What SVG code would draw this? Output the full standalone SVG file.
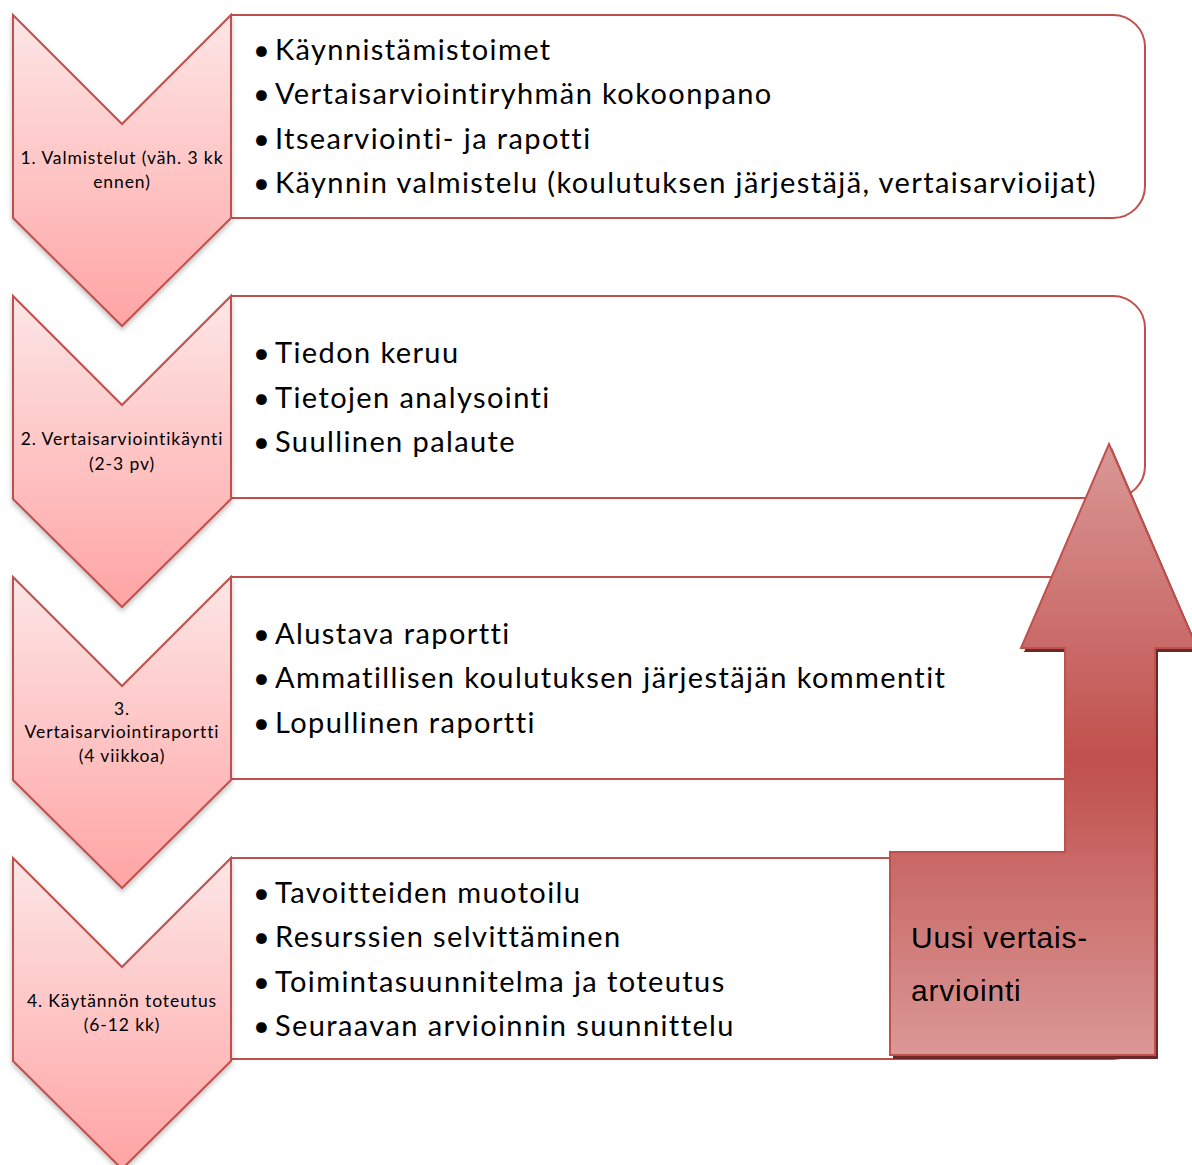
<svg xmlns="http://www.w3.org/2000/svg" width="1192" height="1165" viewBox="0 0 1192 1165">
<style>
.chev{fill:url(#chevGrad);stroke:#c0504d;stroke-width:2;filter:url(#sh)}
.box{fill:#ffffff;stroke:#c0504d;stroke-width:2}
.lbl{font-family:Lato,"Liberation Sans",sans-serif;font-size:17.5px;letter-spacing:0.9px;fill:#000;text-anchor:middle;font-variant-ligatures:none}
.bul{font-family:Lato,"Liberation Sans",sans-serif;font-size:29px;letter-spacing:1.4px;fill:#000;font-variant-ligatures:none}
.arw{font-family:"Liberation Sans",Arial,sans-serif;font-size:30px;letter-spacing:0.8px;fill:#000}
</style>
<defs>
<linearGradient id="chevGrad" x1="0" y1="0" x2="0" y2="1">
<stop offset="0" stop-color="#fde6e6"/>
<stop offset="1" stop-color="#ffa4a4"/>
</linearGradient>
<linearGradient id="arrGrad" gradientUnits="userSpaceOnUse" x1="0" y1="444" x2="0" y2="1055">
<stop offset="0" stop-color="#da9896"/>
<stop offset="0.52" stop-color="#c0504d"/>
<stop offset="1" stop-color="#da9896"/>
</linearGradient>
<filter id="sh" x="-10%" y="-10%" width="120%" height="125%">
<feDropShadow dx="0" dy="3" stdDeviation="2.5" flood-color="#000" flood-opacity="0.25"/>
</filter>
</defs>

<g id="step1">
<path class="box" d="M231,15 H1113 A32,32 0 0 1 1145,47 V186 A32,32 0 0 1 1113,218 H231 Z"/>
<path class="chev" d="M13,15 L122,124 L231,15 L231,218 L122,326 L13,218 Z"/>
<text class="lbl" x="122" y="164">1. Valmistelut (väh. 3 kk</text>
<text class="lbl" x="122" y="188">ennen)</text>
<text class="bul" x="253" y="60">•</text><text class="bul" x="275" y="60">Käynnistämistoimet</text>
<text class="bul" x="253" y="104">•</text><text class="bul" x="275" y="104">Vertaisarviointiryhmän kokoonpano</text>
<text class="bul" x="253" y="149">•</text><text class="bul" x="275" y="149">Itsearviointi- ja rapotti</text>
<text class="bul" x="253" y="193">•</text><text class="bul" x="275" y="193">Käynnin valmistelu (koulutuksen järjestäjä, vertaisarvioijat)</text>
</g>

<g id="step2">
<path class="box" d="M231,296 H1113 A32,32 0 0 1 1145,328 V466 A32,32 0 0 1 1113,498 H231 Z"/>
<path class="chev" d="M13,296 L122,405 L231,296 L231,499 L122,607 L13,499 Z"/>
<text class="lbl" x="122" y="445">2. Vertaisarviointikäynti</text>
<text class="lbl" x="122" y="470">(2-3 pv)</text>
<text class="bul" x="253" y="363">•</text><text class="bul" x="275" y="363">Tiedon keruu</text>
<text class="bul" x="253" y="408">•</text><text class="bul" x="275" y="408">Tietojen analysointi</text>
<text class="bul" x="253" y="452">•</text><text class="bul" x="275" y="452">Suullinen palaute</text>
</g>

<g id="step3">
<path class="box" d="M231,577 H1113 A32,32 0 0 1 1145,609 V747 A32,32 0 0 1 1113,779 H231 Z"/>
<path class="chev" d="M13,577 L122,686 L231,577 L231,780 L122,888 L13,780 Z"/>
<text class="lbl" x="122" y="715">3.</text>
<text class="lbl" x="122" y="738">Vertaisarviointiraportti</text>
<text class="lbl" x="122" y="762">(4 viikkoa)</text>
<text class="bul" x="253" y="644">•</text><text class="bul" x="275" y="644">Alustava raportti</text>
<text class="bul" x="253" y="688">•</text><text class="bul" x="275" y="688">Ammatillisen koulutuksen järjestäjän kommentit</text>
<text class="bul" x="253" y="733">•</text><text class="bul" x="275" y="733">Lopullinen raportti</text>
</g>

<g id="step4">
<path class="box" d="M231,858 H1113 A32,32 0 0 1 1145,890 V1027 A32,32 0 0 1 1113,1059 H231 Z"/>
<path class="chev" d="M13,858 L122,967 L231,858 L231,1061 L122,1169 L13,1061 Z"/>
<text class="lbl" x="122" y="1007">4. Käytännön toteutus</text>
<text class="lbl" x="122" y="1031">(6-12 kk)</text>
<text class="bul" x="253" y="903">•</text><text class="bul" x="275" y="903">Tavoitteiden muotoilu</text>
<text class="bul" x="253" y="947">•</text><text class="bul" x="275" y="947">Resurssien selvittäminen</text>
<text class="bul" x="253" y="992">•</text><text class="bul" x="275" y="992">Toimintasuunnitelma ja toteutus</text>
<text class="bul" x="253" y="1036">•</text><text class="bul" x="275" y="1036">Seuraavan arvioinnin suunnittelu</text>
</g>

<g id="connectors">
<g id="newcycle">
<path d="M1112,448 L1200,652 L1158,652 L1158,1059 L893,1059 L893,856 L1068,856 L1068,652 L1024,652 Z" fill="#6b2826"/>
<path d="M1109,444 L1197,648 L1155,648 L1155,1055 L890,1055 L890,852 L1065,852 L1065,648 L1021,648 Z" fill="url(#arrGrad)" stroke="#c0504d" stroke-width="2"/>
<text class="arw" x="911" y="948">Uusi vertais-</text>
<text class="arw" x="911" y="1001">arviointi</text>
</g>
</g>
</svg>
